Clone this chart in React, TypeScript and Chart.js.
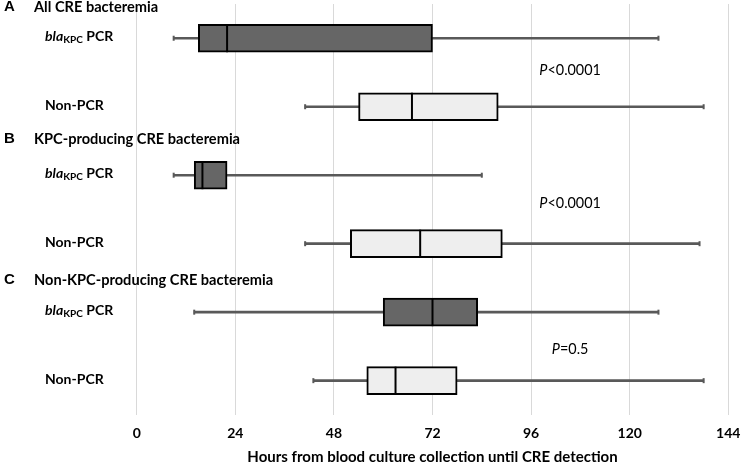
import React, { useEffect, useRef } from "react";
import { Chart, registerables } from "chart.js";

Chart.register(...registerables);

// ---- data ----
const groupLetters = ["A", "B", "C"];
const groupTitles = [
  "All CRE bacteremia",
  "KPC-producing CRE bacteremia",
  "Non-KPC-producing CRE bacteremia",
];
const pValueLabels = ["<0.0001", "<0.0001", "=0.5"];
const categories = [
  "A blaKPC PCR",
  "A Non-PCR",
  "B blaKPC PCR",
  "B Non-PCR",
  "C blaKPC PCR",
  "C Non-PCR",
];
const rowKinds = ["pcr", "non", "pcr", "non", "pcr", "non"];
const whiskerMin = [9, 41, 9, 41, 14, 43];
const q1 = [15, 54, 14, 52, 60, 56];
const median = [22, 67, 16, 69, 72, 63];
const q3 = [72, 88, 22, 89, 83, 78];
const whiskerMax = [127, 138, 84, 137, 127, 138];
const xTicks = [0, 24, 48, 72, 96, 120, 144];
const xTitle = "Hours from blood culture collection until CRE detection";

// ---- styles ----
const FONT = "Lato";
const DARK = "#666666";
const LIGHT = "#eeeeee";
const WHISKER = "#595959";
const BOX_H = 28;
const P_X_VALUE = 105.5;
const headerOffsets = [-31, -36, -32];
const pOffsets = [-2.3, -6.3, 2.7];

const annotPlugin = {
  id: "annot",
  afterDatasetsDraw(chart: any) {
    const { ctx } = chart;
    const xs = chart.scales.x;
    const ys = chart.scales.y;
    ctx.save();
    categories.forEach((_, i) => {
      const y = ys.getPixelForValue(i);
      ctx.strokeStyle = WHISKER;
      ctx.lineWidth = 2;
      [whiskerMin[i], whiskerMax[i]].forEach((v) => {
        const x = xs.getPixelForValue(v);
        ctx.beginPath();
        ctx.moveTo(x, y - 2.5);
        ctx.lineTo(x, y + 2.5);
        ctx.stroke();
      });
      const mx = xs.getPixelForValue(median[i]);
      ctx.strokeStyle = "#000";
      ctx.lineWidth = 2;
      ctx.beginPath();
      ctx.moveTo(mx, y - BOX_H / 2);
      ctx.lineTo(mx, y + BOX_H / 2);
      ctx.stroke();
    });
    ctx.restore();
  },
  afterDraw(chart: any) {
    const { ctx } = chart;
    const xs = chart.scales.x;
    const ys = chart.scales.y;
    ctx.save();
    ctx.fillStyle = "#000";
    ctx.textBaseline = "middle";
    ctx.textAlign = "left";
    // group headers
    groupLetters.forEach((letter, g) => {
      const y = ys.getPixelForValue(g * 2) + headerOffsets[g];
      ctx.font = `bold 15px "Liberation Sans"`;
      ctx.fillText(letter, 4, y);
      ctx.font = `bold 14.6px ${FONT}`;
      ctx.fillText(groupTitles[g], 34, y);
    });
    // row labels
    rowKinds.forEach((kind, i) => {
      const y = ys.getPixelForValue(i) - 1.5;
      let x = 45;
      if (kind === "pcr") {
        ctx.font = `italic bold 14px ${FONT}`;
        ctx.fillText("bla", x, y);
        x += ctx.measureText("bla").width;
        ctx.font = `bold 10px ${FONT}`;
        ctx.fillText("KPC", x, y + 3.5);
        x += ctx.measureText("KPC").width;
        ctx.font = `bold 14px ${FONT}`;
        ctx.fillText(" PCR", x, y);
      } else {
        ctx.font = `bold 14px ${FONT}`;
        ctx.fillText("Non-PCR", x, y);
      }
    });
    // p values
    pValueLabels.forEach((p, g) => {
      const y =
        (ys.getPixelForValue(g * 2) + ys.getPixelForValue(g * 2 + 1)) / 2 + pOffsets[g];
      const cx = xs.getPixelForValue(P_X_VALUE);
      ctx.font = `italic 14.4px ${FONT}`;
      const w1 = ctx.measureText("P").width;
      ctx.font = `14.4px ${FONT}`;
      const w2 = ctx.measureText(p).width;
      const x = cx - (w1 + w2) / 2;
      ctx.font = `italic 14.4px ${FONT}`;
      ctx.fillText("P", x, y);
      ctx.font = `14.4px ${FONT}`;
      ctx.fillText(p, x + w1, y);
    });
    ctx.restore();
  },
};

export default function App() {
  const ref = useRef<HTMLCanvasElement | null>(null);
  useEffect(() => {
    if (!ref.current) return;
    const chart = new Chart(ref.current, {
      type: "bar",
      data: {
        labels: categories,
        datasets: [
          {
            label: "Interquartile range",
            data: categories.map((_, i) => [q1[i], q3[i]]),
            backgroundColor: rowKinds.map((k) => (k === "pcr" ? DARK : LIGHT)),
            borderColor: "#000",
            borderWidth: 2,
            borderSkipped: false,
            barThickness: BOX_H,
            grouped: false,
            order: 0,
          } as any,
          {
            label: "Range",
            data: categories.map((_, i) => [whiskerMin[i], whiskerMax[i]]),
            backgroundColor: WHISKER,
            borderWidth: 0,
            barThickness: 2,
            grouped: false,
            order: 1,
          } as any,
        ],
      },
      options: {
        indexAxis: "y",
        responsive: false,
        animation: false,
        devicePixelRatio: 1,
        layout: { padding: { left: 136.7, right: 12.7, top: 4, bottom: 0 } },
        plugins: { legend: { display: false }, tooltip: { enabled: false } },
        scales: {
          y: { type: "category", display: false },
          x: {
            type: "linear",
            min: 0,
            max: 144,
            afterBuildTicks: (s: any) => {
              s.ticks = xTicks.map((v) => ({ value: v }));
            },
            ticks: {
              font: { family: FONT, size: 14, weight: "bold" },
              color: "#000",
              padding: 0,
            },
            grid: {
              color: "#d9d9d9",
              lineWidth: 1,
              drawTicks: true,
              tickLength: 10.6,
              tickColor: "rgba(0,0,0,0)",
            },
            border: { display: false },
            title: {
              display: true,
              text: xTitle,
              color: "#000",
              font: { family: FONT, size: 15, weight: "bold" },
              padding: { top: 5.7, bottom: -4 },
            },
          },
        },
      },
      plugins: [annotPlugin],
    });
    return () => chart.destroy();
  }, []);
  return (
    <div style={{ position: "absolute", left: 0, top: 0, width: 741, height: 462, background: "#fff" }}>
      <canvas ref={ref} width={741} height={462} />
    </div>
  );
}
